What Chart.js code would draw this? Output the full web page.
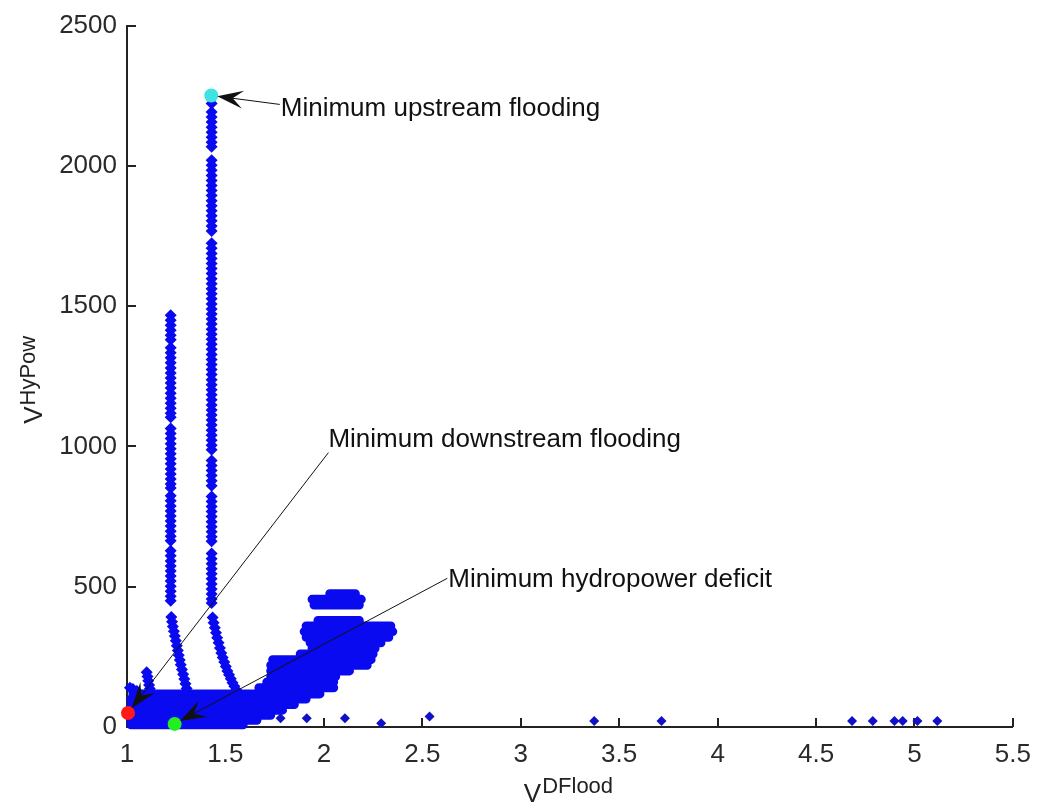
<!DOCTYPE html>
<html>
<head>
<meta charset="utf-8">
<script src="https://cdn.jsdelivr.net/npm/chart.js@4.4.1/dist/chart.umd.min.js"></script>
<style>
  html, body { margin: 0; padding: 0; background: #fff; }
  #chart { display: block; }
</style>
</head>
<body>
<canvas id="chart" width="1043" height="805"></canvas>
<script>
const xTicks = [1, 1.5, 2, 2.5, 3, 3.5, 4, 4.5, 5, 5.5];
const yTicks = [0, 500, 1000, 1500, 2000, 2500];

// the three extreme solutions (upstream, downstream, hydropower)
const bestLabels = ['Minimum upstream flooding', 'Minimum downstream flooding', 'Minimum hydropower deficit'];
const bestX = [1.428, 1.005, 1.242];
const bestY = [2251, 50, 11];
const bestColors = ['#3fe3e3', '#ff1a1a', '#22ee22'];

// two vertical strands of solutions
const colAx = 1.43;
const colAy = [2222, 2192, 2174, 2156, 2138, 2120, 2102, 2084, 2068, 2020, 2002, 1984, 1966, 1948, 1930, 1912, 1894,
  1876, 1858, 1840, 1822, 1804, 1786, 1768, 1724, 1706, 1688, 1670, 1652, 1634, 1616, 1598, 1580, 1562, 1544, 1526,
  1508, 1490, 1472, 1454, 1436, 1418, 1400, 1382, 1364, 1346, 1328, 1310, 1292, 1274, 1256, 1238, 1220, 1202, 1184,
  1166, 1148, 1130, 1112, 1094, 1076, 1058, 1040, 1022, 1004, 988, 950, 932, 914, 896, 878, 860, 822, 804, 786, 768,
  750, 732, 714, 696, 678, 662, 618, 600, 582, 564, 546, 528, 510, 492, 474, 456, 442];
const colBx = 1.222;
const colBy = [1468, 1450, 1432, 1414, 1396, 1380, 1352, 1334, 1316, 1298, 1280, 1262, 1244, 1226, 1208, 1190, 1172,
  1154, 1136, 1118, 1104, 1064, 1046, 1028, 1010, 992, 974, 956, 938, 920, 902, 884, 866, 852, 824, 806, 788, 770,
  752, 734, 716, 698, 680, 664, 628, 610, 592, 574, 556, 538, 520, 502, 484, 466, 450];

// lower ends of the strands bending to the right
const slantA = [[1.435, 390], [1.440, 372], [1.446, 354], [1.452, 336], [1.458, 318], [1.465, 300], [1.472, 282],
  [1.479, 264], [1.486, 248], [1.494, 232], [1.502, 216], [1.510, 200], [1.518, 186], [1.527, 172], [1.536, 158],
  [1.545, 145], [1.555, 132]];
const slantB = [[1.225, 392], [1.229, 375], [1.233, 358], [1.238, 341], [1.243, 324], [1.248, 307], [1.253, 290],
  [1.258, 273], [1.263, 256], [1.268, 239], [1.273, 222], [1.279, 205], [1.285, 188], [1.291, 171], [1.297, 154],
  [1.303, 137], [1.310, 122]];
const bump = [[1.1, 195], [1.104, 180], [1.108, 165], [1.112, 150], [1.116, 136], [1.015, 140], [1.03, 135], [1.05, 128]];

// scattered solutions along the x axis
const outX = [1.78, 1.913, 2.107, 2.291, 2.537, 3.373, 3.715, 4.683, 4.788, 4.898, 4.940, 5.015, 5.116];
const outY = [31, 31, 31, 13, 37, 21, 21, 21, 21, 21, 21, 21, 21];

// dense cloud of solutions, one row per level: [VHyPow, VDFlood from, VDFlood to]
const blobRows = [
  [8, 1.02, 1.59], [24, 1.02, 1.66], [42, 1.02, 1.73], [60, 1.02, 1.79], [80, 1.02, 1.85], [100, 1.02, 1.91],
  [118, 1.03, 1.98], [140, 1.67, 2.05], [160, 1.71, 2.05], [180, 1.73, 2.06], [200, 1.73, 2.13], [220, 1.73, 2.22],
  [240, 1.74, 2.24], [260, 1.88, 2.25], [280, 1.94, 2.26], [300, 1.93, 2.29], [320, 1.91, 2.33], [340, 1.90, 2.35],
  [360, 1.91, 2.34], [380, 1.97, 2.18], [435, 1.95, 2.18], [455, 1.94, 2.19], [475, 2.03, 2.16]
];

const FONT = "'Liberation Sans', Arial, sans-serif";
const BLUE = '#0a0af0';

const strandPts = [];
colAy.forEach(v => strandPts.push({ x: colAx, y: v }));
colBy.forEach(v => strandPts.push({ x: colBx, y: v }));
slantA.concat(slantB, bump).forEach(p => strandPts.push({ x: p[0], y: p[1] }));
const outPts = outX.map((v, i) => ({ x: v, y: outY[i] }));

const blobPts = [];
blobRows.forEach(r => {
  blobPts.push({ x: r[1], y: r[0] }, { x: r[2], y: r[0] }, { x: r[2], y: null });
});

const bestSets = bestX.map((v, i) => ({
  type: 'scatter',
  label: bestLabels[i],
  data: [{ x: v, y: bestY[i] }],
  pointStyle: 'circle',
  pointRadius: 7,
  backgroundColor: bestColors[i],
  borderColor: bestColors[i],
  borderWidth: 0,
  clip: 12
}));

// arrow tails in data units, text offset in pixels from the tail
const notes = [
  { tail: [1.776, 2219], dx: 1, dy: 12 },
  { tail: [2.023, 978], dx: 0, dy: -6 },
  { tail: [2.627, 530], dx: 1, dy: 9 }
];

function arrowHead(ctx, tx, ty, ux, uy) {
  const L = 26, hw = 9;
  const bx = tx - ux * L, by = ty - uy * L;
  ctx.beginPath();
  ctx.moveTo(tx, ty);
  ctx.lineTo(bx - uy * hw, by + ux * hw);
  ctx.lineTo(tx - ux * L * 0.6, ty - uy * L * 0.6);
  ctx.lineTo(bx + uy * hw, by - ux * hw);
  ctx.closePath();
  ctx.fill();
}

const notesPlugin = {
  id: 'notes',
  afterDatasetsDraw(chart) {
    const { ctx, scales: { x, y } } = chart;
    ctx.save();
    ctx.strokeStyle = '#111';
    ctx.fillStyle = '#111';
    ctx.lineWidth = 1;
    ctx.font = '26px ' + FONT;
    ctx.textBaseline = 'alphabetic';
    notes.forEach((n, i) => {
      const sx = x.getPixelForValue(n.tail[0]), sy = y.getPixelForValue(n.tail[1]);
      const cx = x.getPixelForValue(bestX[i]), cy = y.getPixelForValue(bestY[i]);
      const len = Math.hypot(cx - sx, cy - sy);
      const ux = (cx - sx) / len, uy = (cy - sy) / len;
      const tx = cx - ux * 6, ty = cy - uy * 6;
      ctx.beginPath();
      ctx.moveTo(sx, sy);
      ctx.lineTo(tx - ux * 10, ty - uy * 10);
      ctx.stroke();
      arrowHead(ctx, tx, ty, ux, uy);
      ctx.fillText(bestLabels[i], sx + n.dx, sy + n.dy);
    });
    ctx.restore();
  }
};

// inward tick marks like the original figure
const ticksPlugin = {
  id: 'inTicks',
  beforeDatasetsDraw(chart) {
    const { ctx, chartArea: a, scales: { x, y } } = chart;
    ctx.save();
    ctx.strokeStyle = '#222';
    ctx.lineWidth = 2;
    ctx.beginPath();
    xTicks.forEach(v => {
      const px = Math.round(x.getPixelForValue(v));
      ctx.moveTo(px, a.bottom);
      ctx.lineTo(px, a.bottom - 9);
    });
    yTicks.forEach(v => {
      const py = Math.round(y.getPixelForValue(v));
      ctx.moveTo(a.left, py);
      ctx.lineTo(a.left + 9, py);
    });
    ctx.stroke();
    ctx.restore();
  }
};

// axis titles with superscripts
const titlesPlugin = {
  id: 'titles',
  afterDraw(chart) {
    const { ctx, chartArea: a } = chart;
    ctx.save();
    ctx.fillStyle = '#222';
    ctx.textBaseline = 'alphabetic';
    ctx.textAlign = 'left';
    const mid = (a.left + a.right) / 2;
    ctx.font = '26px ' + FONT;
    const vw = ctx.measureText('V').width;
    ctx.font = '22px ' + FONT;
    const sw = ctx.measureText('DFlood').width;
    const x0 = mid - (vw + sw) / 2 - 2;
    ctx.font = '26px ' + FONT;
    ctx.fillText('V', x0, 802);
    ctx.font = '22px ' + FONT;
    ctx.fillText('DFlood', x0 + vw + 1, 793);

    ctx.translate(0, (a.top + a.bottom) / 2);
    ctx.rotate(-Math.PI / 2);
    ctx.font = '22px ' + FONT;
    const hw = ctx.measureText('HyPow').width;
    const y0 = -(vw + hw) / 2 - 4;
    ctx.font = '26px ' + FONT;
    ctx.fillText('V', y0, 42);
    ctx.font = '22px ' + FONT;
    ctx.fillText('HyPow', y0 + vw + 1, 35);
    ctx.restore();
  }
};

const tickFont = { family: FONT, size: 26 };

new Chart(document.getElementById('chart'), {
  type: 'scatter',
  data: {
    datasets: bestSets.concat([
      {
        type: 'scatter',
        label: 'Solutions',
        data: strandPts,
        pointStyle: 'rectRot',
        pointRadius: 6,
        backgroundColor: BLUE,
        borderColor: BLUE,
        borderWidth: 0,
        clip: 12
      },
      {
        type: 'scatter',
        label: 'Solutions (sparse)',
        data: outPts,
        pointStyle: 'rectRot',
        pointRadius: 5,
        backgroundColor: '#1010c8',
        borderColor: '#1010c8',
        borderWidth: 0,
        clip: 12
      },
      {
        type: 'line',
        label: 'Solutions (dense)',
        data: blobPts,
        borderColor: BLUE,
        borderWidth: 9,
        borderCapStyle: 'round',
        pointRadius: 0,
        spanGaps: false,
        tension: 0,
        clip: 12
      }
    ])
  },
  options: {
    responsive: false,
    animation: false,
    events: [],
    layout: { padding: { left: 0, top: 24, right: 22, bottom: 0 }, autoPadding: false },
    plugins: { legend: { display: false }, tooltip: { enabled: false } },
    scales: {
      x: {
        type: 'linear',
        min: 1,
        max: 5.5,
        afterFit: s => { s.height = 78; },
        afterBuildTicks: s => { s.ticks = xTicks.map(v => ({ value: v })); },
        grid: { display: false, drawTicks: false },
        border: { display: true, color: '#222', width: 2 },
        ticks: { font: tickFont, color: '#2a2a2a', padding: 12, maxRotation: 0, autoSkip: false, callback: v => String(v) }
      },
      y: {
        type: 'linear',
        min: 0,
        max: 2500,
        afterFit: s => { s.width = 127; },
        afterBuildTicks: s => { s.ticks = yTicks.map(v => ({ value: v })); },
        grid: { display: false, drawTicks: false },
        border: { display: true, color: '#222', width: 2 },
        ticks: { font: tickFont, color: '#2a2a2a', padding: 10, autoSkip: false, callback: v => String(v) }
      }
    }
  },
  plugins: [ticksPlugin, notesPlugin, titlesPlugin]
});
</script>
</body>
</html>
